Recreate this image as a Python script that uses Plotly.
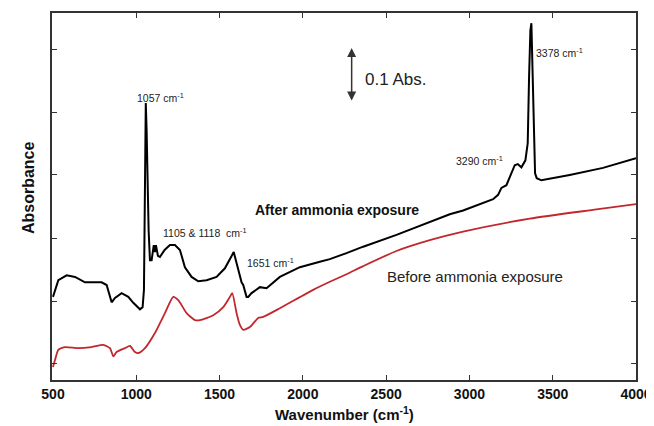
import plotly.graph_objects as go

# After ammonia exposure (black)
after_wn = [500, 532, 582, 632, 692, 792, 822, 842, 852, 872, 912, 952, 982, 1022, 1038, 1046,
            1052, 1057, 1062, 1068, 1074, 1082, 1092, 1105, 1112, 1118, 1130, 1142, 1170, 1202,
            1232, 1262, 1292, 1332, 1372, 1422, 1482, 1532, 1572, 1585, 1602, 1622, 1632, 1642,
            1651, 1662, 1672, 1692, 1742, 1782, 1862, 1982, 2102, 2162, 2262, 2362, 2562, 2762,
            2882, 2962, 3102, 3142, 3172, 3192, 3222, 3252, 3272, 3290, 3312, 3336, 3350, 3358,
            3366, 3372, 3380, 3386, 3394, 3404, 3432, 3602, 3802, 4000]
after_abs = [0.154, 0.185, 0.194, 0.191, 0.181, 0.181, 0.176, 0.157, 0.144, 0.152, 0.161, 0.154,
             0.143, 0.131, 0.135, 0.167, 0.333, 0.513, 0.463, 0.357, 0.278, 0.222, 0.222, 0.250,
             0.237, 0.250, 0.230, 0.228, 0.241, 0.250, 0.250, 0.241, 0.209, 0.191, 0.183, 0.185,
             0.191, 0.207, 0.231, 0.237, 0.217, 0.191, 0.181, 0.176, 0.167, 0.154, 0.154, 0.161,
             0.172, 0.170, 0.191, 0.209, 0.219, 0.224, 0.235, 0.247, 0.269, 0.293, 0.307, 0.314,
             0.330, 0.335, 0.343, 0.356, 0.361, 0.383, 0.398, 0.400, 0.394, 0.407, 0.439, 0.561,
             0.648, 0.661, 0.556, 0.439, 0.383, 0.374, 0.370, 0.380, 0.393, 0.411]

# Before ammonia exposure (red)
before_wn = [500, 512, 532, 572, 652, 732, 802, 842, 862, 882, 932, 962, 992, 1012, 1052, 1112,
             1172, 1222, 1252, 1302, 1352, 1382, 1462, 1522, 1562, 1576, 1602, 1622, 1642, 1682,
             1732, 1762, 1862, 2062, 2162, 2262, 2362, 2562, 2762, 2962, 3362, 3762, 4000]
before_abs = [0.024, 0.037, 0.056, 0.061, 0.059, 0.061, 0.065, 0.059, 0.044, 0.052, 0.059, 0.063,
              0.052, 0.050, 0.059, 0.087, 0.124, 0.154, 0.148, 0.124, 0.111, 0.111, 0.120, 0.135,
              0.154, 0.161, 0.124, 0.102, 0.093, 0.098, 0.115, 0.117, 0.133, 0.167, 0.182, 0.196,
              0.211, 0.239, 0.259, 0.275, 0.299, 0.316, 0.326]

x_ticks = [500, 1000, 1500, 2000, 2500, 3000, 3500, 4000]
y_ticks = [0.030, 0.146, 0.263, 0.380, 0.496, 0.613]

FONT = "Liberation Sans, Arial, sans-serif"
AX = "#333333"

fig = go.Figure()
fig.add_trace(go.Scatter(x=before_wn, y=before_abs, mode="lines",
                         line=dict(color="#c1272d", width=1.8, shape="spline", smoothing=0.6),
                         showlegend=False))
fig.add_trace(go.Scatter(x=after_wn, y=after_abs, mode="lines",
                         line=dict(color="#000000", width=2), showlegend=False))

ann_small = dict(size=10.5, family=FONT, color="#222222")
annotations = [
    dict(x=1148, y=0.524, text="1057 cm<sup>-1</sup>", font=ann_small, xanchor="center", yanchor="middle"),
    dict(x=1415, y=0.274, text="1105 &amp; 1118  cm<sup>-1</sup>", font=ann_small, xanchor="center", yanchor="middle"),
    dict(x=1803, y=0.217, text="1651 cm<sup>-1</sup>", font=ann_small, xanchor="center", yanchor="middle"),
    dict(x=3063, y=0.407, text="3290 cm<sup>-1</sup>", font=ann_small, xanchor="center", yanchor="middle"),
    dict(x=3543, y=0.607, text="3378 cm<sup>-1</sup>", font=ann_small, xanchor="center", yanchor="middle"),
    dict(x=1701, y=0.315, text="<b>After ammonia exposure</b>",
         font=dict(size=14, family=FONT, color="#111111"), xanchor="left", yanchor="middle"),
    dict(x=2493, y=0.191, text="Before ammonia exposure",
         font=dict(size=15, family=FONT, color="#222222"), xanchor="left", yanchor="middle"),
    dict(x=2361, y=0.556, text="0.1 Abs.",
         font=dict(size=17, family=FONT, color="#222222"), xanchor="left", yanchor="middle"),
]
for a in annotations:
    a.update(xref="x", yref="y", showarrow=False)

# double-headed scale arrow (0.1 Abs)
annotations.append(dict(x=2293, y=0.615, ax=2293, ay=0.515, xref="x", yref="y",
                        axref="x", ayref="y", text="", showarrow=True,
                        arrowhead=2, arrowside="end+start", arrowsize=1.2,
                        arrowwidth=1.5, arrowcolor="#333333"))

# axis titles
annotations.append(dict(xref="paper", yref="paper", x=0.5, y=0, yshift=-33,
                        text="Wavenumber (cm<sup>-1</sup>)", showarrow=False,
                        xanchor="center", yanchor="middle",
                        font=dict(size=15, family=FONT, color="#111111", weight="bold")))
annotations.append(dict(xref="paper", yref="paper", x=0, y=0.523, xshift=-24,
                        text="Absorbance", textangle=-90, showarrow=False,
                        xanchor="center", yanchor="middle",
                        font=dict(size=16, family=FONT, color="#111111", weight="bold")))

# the page body adds an 8 px offset, so the figure is 8 px smaller on each of those sides
fig.update_layout(
    width=646, height=418,
    margin=dict(l=44, r=18, t=5, b=46, autoexpand=False),
    paper_bgcolor="white", plot_bgcolor="white",
    annotations=annotations,
    font=dict(family=FONT),
)
fig.update_xaxes(range=[494, 4000], tickvals=x_ticks, ticks="inside", ticklen=5,
                 tickcolor=AX, showline=True, linecolor=AX, linewidth=1.5, mirror="allticks",
                 showgrid=False, zeroline=False, automargin=False,
                 tickfont=dict(size=14, family=FONT, color="#111111", weight="bold"))
fig.update_yaxes(range=[0, 0.68], tickvals=y_ticks, showticklabels=False, ticks="inside",
                 ticklen=5, tickcolor=AX, showline=True, linecolor=AX, linewidth=1.5,
                 mirror="allticks", showgrid=False, zeroline=False, automargin=False)

fig.write_html("out.html")
